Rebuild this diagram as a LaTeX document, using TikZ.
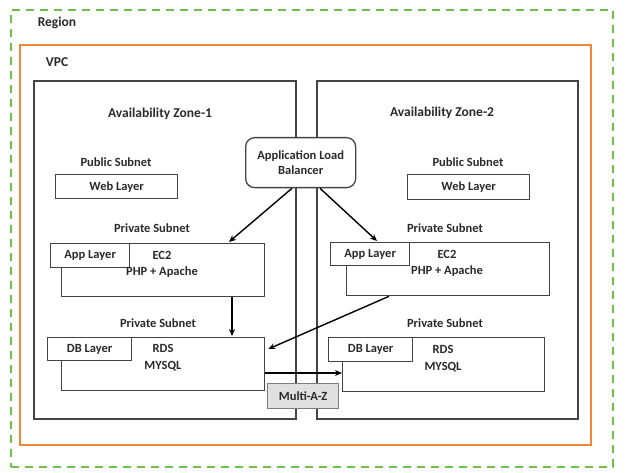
\documentclass[tikz,border=0pt]{standalone}
\usepackage{fontspec}
\setmainfont{Carlito}[BoldFont={Carlito Bold}]
\usetikzlibrary{arrows.meta}
\definecolor{rgreen}{HTML}{6CC04A}
\definecolor{vorange}{HTML}{F0883A}
\definecolor{txt}{HTML}{2A2A2A}
\definecolor{boxc}{HTML}{444444}
\tikzset{
  lbl/.style={font=\fontsize{12.5}{15}\selectfont\bfseries, text=txt, inner sep=0pt, align=center},
  ttl/.style={font=\fontsize{13.5}{16}\selectfont\bfseries, text=txt, inner sep=0pt},
  box/.style={draw=boxc, line width=1.3pt, fill=white, inner sep=0pt, anchor=north west},
  azbox/.style={draw=boxc, line width=1.8pt, inner sep=0pt, anchor=north west},
  arr/.style={draw=black, line width=1.4pt, -{Stealth[length=7pt,width=6pt]}},
}
\begin{document}
\begin{tikzpicture}[x=1pt,y=-1pt]
\useasboundingbox (0,0) rectangle (630,473);
\fill[white] (0,0) rectangle (630,473);
% Region
\node[draw=rgreen, line width=1.8pt, dash pattern=on 8pt off 6pt, inner sep=0pt, anchor=north west,
  minimum width=602pt, minimum height=457pt] (region) at (10,9) {};
\node[ttl] (regionlbl) at (57,23) {Region};
% VPC
\node[draw=vorange, line width=1.7pt, inner sep=0pt, anchor=north west,
  minimum width=571pt, minimum height=400pt] (vpc) at (19,44) {};
\node[ttl] (vpclbl) at (57,62) {VPC};
% Availability zones
\node[azbox, minimum width=262pt, minimum height=338pt] (az1) at (33,80) {};
\node[azbox, minimum width=261pt, minimum height=338pt] (az2) at (316,80) {};
\node[ttl] (az1lbl) at (160,114) {Availability Zone-1};
\node[ttl] (az2lbl) at (442,113) {Availability Zone-2};
% Public subnets
\node[lbl] (pub1) at (116,162) {Public Subnet};
\node[lbl] (pub2) at (468,162) {Public Subnet};
\node[box, minimum width=122pt, minimum height=24pt] (web1) at (55,174) {};
\node[lbl] at (web1.center) {Web Layer};
\node[box, minimum width=122pt, minimum height=25pt] (web2) at (407,174) {};
\node[lbl] at (web2.center) {Web Layer};
% Private subnets (app)
\node[lbl] (priv1) at (152,228) {Private Subnet};
\node[lbl] (priv2) at (445,228) {Private Subnet};
\node[box, minimum width=203pt, minimum height=53pt] (ec2a) at (61,243) {};
\node[box, minimum width=79pt, minimum height=24pt] (app1) at (50,243) {};
\node[lbl] at (app1.center) {App Layer};
\node[lbl] (ec2atxt) at (162,255) {EC2};
\node[lbl] (ec2aphp) at (162,272) {PHP + Apache};
\node[box, minimum width=203pt, minimum height=53pt] (ec2b) at (346,242) {};
\node[box, minimum width=79pt, minimum height=23pt] (app2) at (330,242) {};
\node[lbl] at (app2.center) {App Layer};
\node[lbl] (ec2btxt) at (447,254) {EC2};
\node[lbl] (ec2bphp) at (447,271) {PHP + Apache};
% Private subnets (db)
\node[lbl] (priv3) at (158,323) {Private Subnet};
\node[lbl] (priv4) at (445,323) {Private Subnet};
\node[box, minimum width=203pt, minimum height=53pt] (dba) at (61,337) {};
\node[box, minimum width=84pt, minimum height=23pt] (dbl1) at (47,337) {};
\node[lbl] at (dbl1.center) {DB Layer};
\node[lbl] (rdsa) at (163,348) {RDS};
\node[lbl] (mysqla) at (163,366) {MYSQL};
\node[box, minimum width=202pt, minimum height=54pt] (dbb) at (342,337) {};
\node[box, minimum width=84pt, minimum height=24pt] (dbl2) at (328,337) {};
\node[lbl] at (dbl2.center) {DB Layer};
\node[lbl] (rdsb) at (443,349) {RDS};
\node[lbl] (mysqlb) at (443,367) {MYSQL};
% ALB
\node[draw=boxc, line width=1.3pt, fill=white, rounded corners=9pt, anchor=north west,
  minimum width=110pt, minimum height=50pt, inner sep=0pt] (alb) at (245,137) {};
\node[lbl] (albtxt) at (alb.center) {Application Load\\Balancer};
% Arrows
\draw[arr] ([xshift=47pt]alb.south west) -- ([xshift=168pt,yshift=1pt]ec2a.north west);
\draw[arr] ([xshift=75pt]alb.south west) -- ([xshift=47pt,yshift=1pt]app2.north west);
\draw[arr] ([xshift=171pt]ec2a.south west) -- ([xshift=171pt,yshift=1pt]dba.north west);
\draw[arr] ([xshift=43pt]ec2b.south west) -- ([xshift=3pt,yshift=-12pt]dba.north east);
\draw[arr] ([yshift=-36pt]dba.north east) -- ([yshift=-36pt]dbb.north west);
% Multi-A-Z
\node[draw=boxc!70, line width=1.3pt, fill=black!12, anchor=north west, inner sep=0pt,
  minimum width=71pt, minimum height=25pt] (maz) at (267,383) {};
\node[lbl] at (maz.center) {Multi-A-Z};
\end{tikzpicture}
\end{document}
